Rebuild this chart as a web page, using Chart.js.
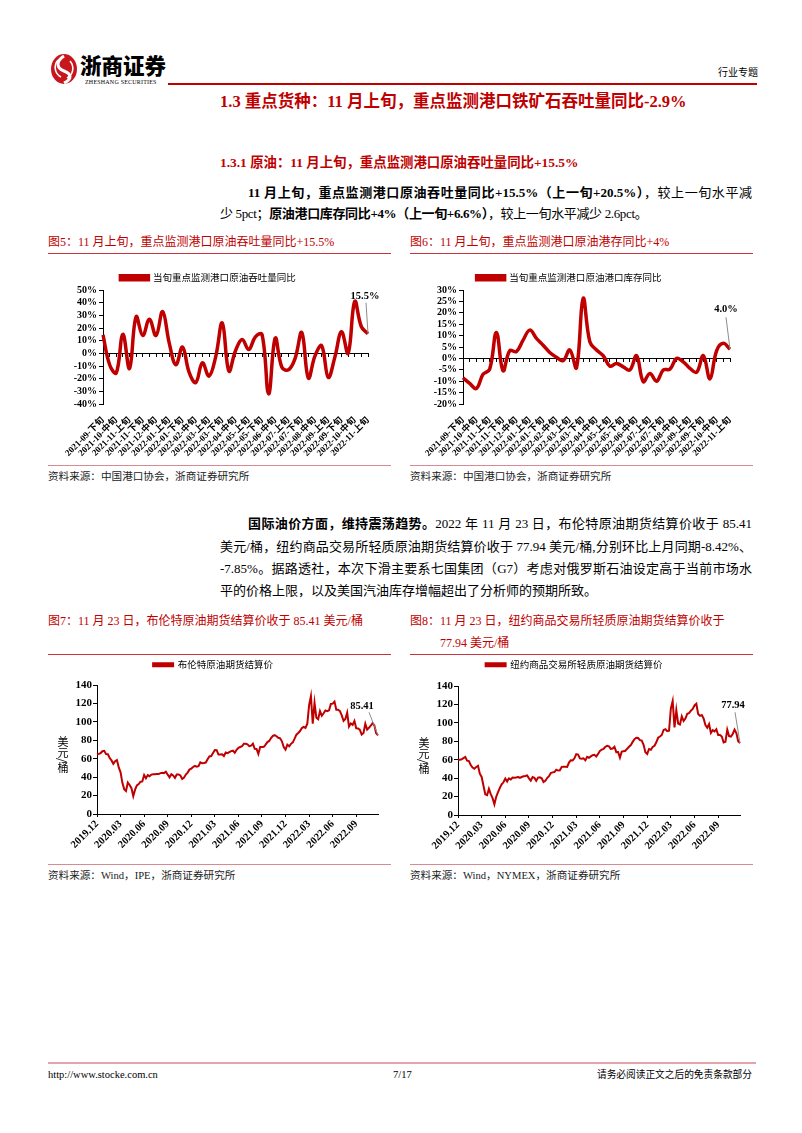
<!DOCTYPE html>
<html>
<head>
<meta charset="utf-8">
<script src="https://cdn.jsdelivr.net/npm/chart.js@4.4.0/dist/chart.umd.min.js"></script>
<style>
  body { margin: 0; background: #fff; }
  #page { position: relative; width: 802px; height: 1133px; overflow: hidden; background: #fff;
          font-family: "Liberation Serif", "Noto Sans CJK SC", serif; color: #000; }
  .t { position: absolute; white-space: nowrap; line-height: 1; }
  .red { color: #c00000; }
  .rule { position: absolute; height: 1px; }
  .just { position: absolute; white-space: nowrap; line-height: 1; text-align: justify; text-align-last: justify; }
  .cap { font-size: 12px; color: #c00000; }
  .src { font-size: 10.6px; color: #222; }
  .para { font-size: 13px; }
  canvas { position: absolute; }
  .ytitle { position: absolute; writing-mode: vertical-rl; font-size: 11px; line-height: 1; font-family: "Noto Sans CJK SC"; }
</style>
</head>
<body>
<div id="page">
  <!-- header -->
  <svg style="position:absolute;left:49px;top:52px" width="30" height="34" viewBox="0 0 30 34">
    <ellipse cx="15" cy="17" rx="13" ry="15" fill="#c8161d"/>
    <path d="M15 4 C7 9 7 16 15 19 C23 22 23 27 15 31" stroke="#fff" stroke-width="3" fill="none"/>
    <path d="M9 8 C4 14 6 22 12 25" stroke="#fff" stroke-width="1.6" fill="none"/>
    <path d="M21 9 C26 15 24 23 18 26" stroke="#fff" stroke-width="1.6" fill="none"/>
  </svg>
  <div class="t" style="left:80px;top:54px;font-size:21.5px;font-weight:900;font-family:'Noto Sans CJK SC';">浙商证券</div>
  <div class="t" style="left:85px;top:79px;font-size:6px;letter-spacing:0.2px;">ZHESHANG SECURITIES</div>
  <div class="t" style="left:718px;top:67px;font-size:10px;font-family:'Noto Sans CJK SC';">行业专题</div>
  <div class="rule" style="left:168px;top:83px;width:589px;height:2px;background:#c00000;"></div>

  <div class="t red" style="left:220px;top:94px;font-size:16.5px;font-weight:bold;">1.3 重点货种：11 月上旬，重点监测港口铁矿石吞吐量同比-2.9%</div>
  <div class="t red" style="left:220px;top:156px;font-size:13.4px;font-weight:bold;">1.3.1 原油：11 月上旬，重点监测港口原油吞吐量同比+15.5%</div>

  <div class="just para" style="left:248px;top:186px;width:504px;"><b>11 月上旬，重点监测港口原油吞吐量同比+15.5%（上一旬+20.5%）</b>，较上一旬水平减</div>
  <div class="t para" style="left:220px;top:207px;letter-spacing:-0.35px;">少 5pct；<b>原油港口库存同比+4%（上一旬+6.6%）</b>，较上一旬水平减少 2.6pct。</div>

  <div class="t cap" style="left:48px;top:236px;">图5：11 月上旬，重点监测港口原油吞吐量同比+15.5%</div>
  <div class="t cap" style="left:410px;top:236px;">图6：11 月上旬，重点监测港口原油港存同比+4%</div>
  <div class="rule" style="left:48px;top:253px;width:343px;background:#c9333b;"></div>
  <div class="rule" style="left:410px;top:253px;width:343px;background:#c9333b;"></div>

  <canvas id="c1" width="342" height="200" style="left:48px;top:258px;"></canvas>
  <canvas id="c2" width="345" height="200" style="left:408px;top:258px;"></canvas>

  <div class="rule" style="left:48px;top:465px;width:343px;background:#d98a90;"></div>
  <div class="rule" style="left:410px;top:465px;width:343px;background:#d98a90;"></div>
  <div class="t src" style="left:48px;top:472px;">资料来源：中国港口协会，浙商证券研究所</div>
  <div class="t src" style="left:410px;top:472px;">资料来源：中国港口协会，浙商证券研究所</div>

  <div class="just para" style="left:248px;top:517px;width:504px;"><b>国际油价方面，维持震荡趋势。</b>2022 年 11 月 23 日，布伦特原油期货结算价收于 85.41</div>
  <div class="just para" style="left:220px;top:540px;width:532px;">美元/桶，纽约商品交易所轻质原油期货结算价收于 77.94 美元/桶,分别环比上月同期-8.42%、</div>
  <div class="just para" style="left:220px;top:562px;width:532px;">-7.85%。据路透社，本次下滑主要系七国集团（G7）考虑对俄罗斯石油设定高于当前市场水</div>
  <div class="t para" style="left:220px;top:584px;">平的价格上限，以及美国汽油库存增幅超出了分析师的预期所致。</div>

  <div class="t cap" style="left:48px;top:615px;">图7：11 月 23 日，布伦特原油期货结算价收于 85.41 美元/桶</div>
  <div class="t cap" style="left:410px;top:615px;">图8：11 月 23 日，纽约商品交易所轻质原油期货结算价收于</div>
  <div class="t cap" style="left:440px;top:637px;">77.94 美元/桶</div>
  <div class="rule" style="left:48px;top:654px;width:343px;background:#c9333b;"></div>
  <div class="rule" style="left:410px;top:654px;width:343px;background:#c9333b;"></div>

  <canvas id="c3" width="342" height="205" style="left:48px;top:656px;"></canvas>
  <canvas id="c4" width="345" height="205" style="left:408px;top:656px;"></canvas>
  <div class="ytitle" style="left:57px;top:736px;">美元/桶</div>
  <div class="ytitle" style="left:418px;top:737px;">美元/桶</div>

  <div class="rule" style="left:48px;top:864px;width:343px;background:#d98a90;"></div>
  <div class="rule" style="left:410px;top:864px;width:343px;background:#d98a90;"></div>
  <div class="t src" style="left:48px;top:871px;">资料来源：Wind，IPE，浙商证券研究所</div>
  <div class="t src" style="left:410px;top:871px;">资料来源：Wind，NYMEX，浙商证券研究所</div>

  <!-- footer -->
  <div class="rule" style="left:48px;top:1062px;width:708px;height:2px;background:#e6a3aa;"></div>
  <div class="t" style="left:48px;top:1070px;font-size:10.5px;">http://www.stocke.com.cn</div>
  <div class="t" style="left:393px;top:1070px;font-size:10.5px;">7/17</div>
  <div class="t" style="left:597px;top:1070px;font-size:9.7px;font-family:'Noto Sans CJK SC';">请务必阅读正文之后的免责条款部分</div>
</div>

<script>
// 旬度：重点监测港口原油
var portLabels = ['2021-09-下旬','2021-10-上旬','2021-10-中旬','2021-10-下旬','2021-11-上旬','2021-11-中旬','2021-11-下旬',
  '2021-12-上旬','2021-12-中旬','2021-12-下旬','2022-01-上旬','2022-01-中旬','2022-01-下旬','2022-02-上旬','2022-02-中旬',
  '2022-02-下旬','2022-03-上旬','2022-03-中旬','2022-03-下旬','2022-04-上旬','2022-04-中旬','2022-04-下旬','2022-05-上旬',
  '2022-05-中旬','2022-05-下旬','2022-06-上旬','2022-06-中旬','2022-06-下旬','2022-07-上旬','2022-07-中旬','2022-07-下旬',
  '2022-08-上旬','2022-08-中旬','2022-08-下旬','2022-09-上旬','2022-09-中旬','2022-09-下旬','2022-10-上旬','2022-10-中旬',
  '2022-10-下旬','2022-11-上旬'];
var throughputYoY = [14.5, -9, -15.5, 15, -12, 29, 14, 27, 14, 33, 8, -9, 5, -15, -23, -7.5, -18, -3, 24, -14, 2,
  11, 3, 13, 15, -32, 12, -11, -13, -4, 16.5, -19.5, -2, 6, -19, -3, 17, 0, 41, 21, 15.5];
var inventoryYoY = [-8.5, -11, -13.2, -7, -4.7, 11.4, -5.4, 3.4, 3, 8, 12.4, 8.8, 5.8, 2.6, 0.5, -1, 3.7, -4.1, 26.3, 7.3, 3.7,
  1.2, -3.4, -2.2, -3.7, -5.1, 1.2, -10.2, -6.6, -10, -5.1, -4.7, 0, -1.5, -4.4, -6.1, 1.2, -9, 3.4, 6.6, 4.0];

// 周度结算价（美元/桶），2019-12-06 起每周一个点，末点为 2022-11-23
var brentPrices = [64.39, 65.22, 66.14, 68.16,
  68.60, 64.98, 64.85, 60.69, 58.16, 54.47, 57.32, 58.50, 50.52, 45.27, 33.85, 26.98, 24.93,
  34.11, 31.48, 28.08, 19.33, 26.44, 30.97, 32.50, 35.13, 35.33, 42.30, 38.73, 42.19, 41.02,
  42.80, 43.24, 43.14, 43.34, 43.30, 44.40, 44.80, 44.35, 45.81, 42.66, 39.83, 43.15, 41.92,
  39.27, 42.85, 42.93, 41.77, 37.94, 39.45, 42.78, 44.96, 48.18, 49.25, 50.97, 52.26, 51.29,
  51.80, 55.99, 55.10, 55.41, 55.88, 59.34, 62.43, 62.91, 66.13, 69.36, 69.22, 64.53, 64.57,
  64.86, 62.95, 66.77, 66.11, 67.25, 68.28, 68.71, 66.44, 69.63, 71.89, 72.69, 73.51, 76.18,
  76.17, 75.55, 73.59, 74.10, 76.33, 70.70, 70.59, 65.18, 72.70, 72.61, 72.92, 75.34, 78.09,
  79.28, 82.39, 84.86, 85.53, 84.38, 82.74, 82.17, 78.89, 72.72, 69.88, 75.15, 73.52, 76.14, 77.78,
  81.75, 86.06, 87.89, 90.03, 93.27, 94.44, 93.54, 97.93, 118.11, 127.98, 98.02, 120.65,
  104.39, 102.78, 111.70, 106.65, 109.34, 112.39, 111.55, 112.55, 119.43, 119.72, 122.01, 113.12, 113.12,
  111.63, 107.02, 101.16, 103.20, 110.01, 94.92, 98.15, 96.72, 100.99, 93.02, 92.84, 91.35, 86.15, 87.96,
  97.92, 91.63, 93.50, 95.77, 98.57, 95.99, 87.62, 85.41];
var wtiPrices = [59.20, 60.07, 60.44, 61.72,
  63.05, 59.04, 58.54, 54.19, 51.56, 50.32, 52.05, 53.38, 44.76, 41.28, 31.73, 22.43, 21.51,
  28.34, 22.76, 18.27, 11.57, 19.78, 24.74, 29.43, 33.25, 35.49, 39.55, 36.26, 39.75, 38.49,
  40.65, 40.55, 40.59, 41.29, 40.27, 41.22, 42.01, 42.34, 42.97, 39.77, 37.33, 41.11, 40.25,
  37.05, 40.60, 40.88, 39.85, 35.79, 37.14, 40.13, 42.15, 45.53, 46.26, 46.57, 49.10, 48.23,
  48.52, 52.24, 52.36, 52.27, 52.20, 56.85, 59.47, 59.24, 61.50, 66.09, 65.61, 61.42, 60.97,
  61.45, 59.32, 63.13, 62.14, 63.58, 64.90, 65.37, 63.58, 66.32, 69.62, 70.91, 71.64, 74.05,
  75.16, 74.56, 71.81, 72.07, 73.95, 68.28, 68.44, 62.32, 68.74, 69.29, 69.72, 71.97, 73.98,
  75.88, 79.35, 82.28, 83.76, 83.57, 81.27, 80.79, 76.10, 68.15, 66.26, 71.67, 70.86, 73.79, 75.21,
  78.90, 83.82, 85.14, 86.82, 92.31, 93.10, 91.07, 91.59, 115.68, 123.70, 95.04, 113.90,
  99.27, 98.26, 106.95, 102.07, 104.69, 109.77, 110.49, 113.23, 115.07, 118.87, 120.67, 109.56, 107.62,
  108.43, 104.79, 97.59, 94.70, 98.62, 89.01, 92.09, 90.77, 93.06, 86.87, 86.79, 85.11, 78.74, 79.49,
  92.64, 85.61, 85.05, 87.90, 92.61, 88.96, 80.08, 77.94];
var priceTickLabels = ['2019.12','2020.03','2020.06','2020.09','2020.12','2021.03','2021.06',
  '2021.09','2021.12','2022.03','2022.06','2022.09'];

// 每周一个类目，标签每 13 周一个
var priceWeeks = [];
for (var i = 0; i < brentPrices.length; i++) priceWeeks.push(i);

var RED = '#c00000';
var SERIF = '"Liberation Serif", "Noto Sans CJK SC", serif';
var CJK = '"Noto Sans CJK SC", sans-serif';
Chart.defaults.animation = false;
Chart.defaults.color = '#000';

function endLabel(text, dx, dy, tx, ty) {
  return {
    id: 'endLabel',
    afterDatasetsDraw: function(chart) {
      var pts = chart.getDatasetMeta(0).data;
      var p = pts[pts.length - 1];
      var ctx = chart.ctx;
      ctx.save();
      ctx.strokeStyle = '#8c8c8c';
      ctx.lineWidth = 1;
      ctx.beginPath();
      ctx.moveTo(p.x + dx, p.y + dy);
      ctx.lineTo(p.x, p.y);
      ctx.stroke();
      ctx.fillStyle = '#000';
      ctx.font = 'bold 10.5px ' + SERIF;
      ctx.textAlign = 'center';
      ctx.textBaseline = 'bottom';
      ctx.fillText(text, p.x + tx, p.y + ty);
      ctx.restore();
    }
  };
}

function tenDayChart(id, name, values, ymin, ymax, step, plotPad, label) {
  return new Chart(document.getElementById(id), {
    type: 'line',
    data: {
      labels: portLabels,
      datasets: [{
        label: name,
        data: values,
        borderColor: RED,
        backgroundColor: RED,
        borderWidth: 3.5,
        pointRadius: 0,
        tension: 0.4
      }]
    },
    options: {
      responsive: false,
      devicePixelRatio: 1,
      layout: { padding: { top: plotPad.top, right: plotPad.right, left: 0, bottom: 0 } },
      plugins: {
        legend: {
          maxHeight: plotPad.legendH,
          labels: { boxWidth: 28, boxHeight: 4, padding: plotPad.legendPad, font: { family: CJK, size: 9.5 } }
        },
        tooltip: { enabled: false }
      },
      scales: {
        x: {
          grid: { display: false },
          border: { display: false },
          afterFit: function(s) { s.height = plotPad.xh; },
          ticks: {
            autoSkip: false, minRotation: 45, maxRotation: 45, padding: 3,
            font: { family: SERIF, size: 9, weight: 'bold' },
            callback: function(v, i) { return i % 2 === 0 ? portLabels[i] : null; }
          }
        },
        x0: {
          type: 'category',
          position: { y: 0 },
          grid: { drawOnChartArea: false, tickLength: 3, color: '#000' },
          border: { color: '#000', width: 1 },
          ticks: { autoSkip: false, callback: function() { return ''; } }
        },
        y: {
          min: ymin, max: ymax,
          afterFit: function(s) { s.width = plotPad.yw; },
          grid: { drawOnChartArea: false, tickLength: 4, color: '#000' },
          border: { color: '#000', width: 1 },
          ticks: {
            autoSkip: false, stepSize: step, padding: 2,
            font: { family: SERIF, size: 10, weight: 'bold' },
            callback: function(v) { return v + '%'; }
          }
        }
      }
    },
    plugins: [label]
  });
}

function priceChart(id, name, values, plotPad, label) {
  return new Chart(document.getElementById(id), {
    type: 'line',
    data: {
      labels: priceWeeks,
      datasets: [{
        label: name,
        data: values,
        borderColor: RED,
        backgroundColor: RED,
        borderWidth: 2,
        pointRadius: 0,
        tension: 0
      }]
    },
    options: {
      responsive: false,
      devicePixelRatio: 1,
      layout: { padding: { top: plotPad.top, right: plotPad.right, left: 0, bottom: 0 } },
      plugins: {
        legend: {
          labels: { boxWidth: 20, boxHeight: 3, padding: plotPad.legendPad, font: { family: CJK, size: 9.5 } }
        },
        // empty title used only as a spacer under the legend
        title: { display: true, text: '', weight: 500, font: { size: 1 }, padding: { top: 0, bottom: plotPad.gap } },
        tooltip: { enabled: false }
      },
      scales: {
        x: {
          afterFit: function(s) { s.height = plotPad.xh; },
          grid: { drawOnChartArea: false, tickLength: 3, color: '#000' },
          border: { color: '#000', width: 1 },
          ticks: {
            autoSkip: false, minRotation: 45, maxRotation: 45, padding: 1,
            font: { family: SERIF, size: 10.5, weight: 'bold' },
            callback: function(v, i) { return i % 13 === 0 ? priceTickLabels[i / 13] : null; }
          }
        },
        y: {
          min: 0, max: 140,
          afterFit: function(s) { s.width = plotPad.yw; },
          grid: { drawOnChartArea: false, tickLength: 4, color: '#000' },
          border: { color: '#000', width: 1 },
          ticks: { autoSkip: false, stepSize: 20, padding: 1, font: { family: SERIF, size: 11, weight: 'bold' } }
        }
      }
    },
    plugins: [label]
  });
}

tenDayChart('c1', '当旬重点监测港口原油吞吐量同比', throughputYoY, -40, 50, 10,
  { top: 7, right: 22, xh: 54, yw: 55, legendPad: 8, legendH: 25 }, endLabel('15.5%', -2, -31, -3, -32));
tenDayChart('c2', '当旬重点监测港口原油港口库存同比', inventoryYoY, -20, 30, 5,
  { top: 7, right: 23, xh: 54, yw: 55, legendPad: 8, legendH: 25 }, endLabel('4.0%', -4, -32, -4, -35));
priceChart('c3', '布伦特原油期货结算价', brentPrices,
  { top: 1, right: 12, xh: 47, yw: 49, legendPad: 3, gap: 4.3 }, endLabel('85.41', -9, -23, -16, -24));
priceChart('c4', '纽约商品交易所轻质原油期货结算价', wtiPrices,
  { top: 1, right: 13, xh: 46, yw: 50, legendPad: 3, gap: 5.3 }, endLabel('77.94', -5, -31, -7, -33));
</script>
</body>
</html>
